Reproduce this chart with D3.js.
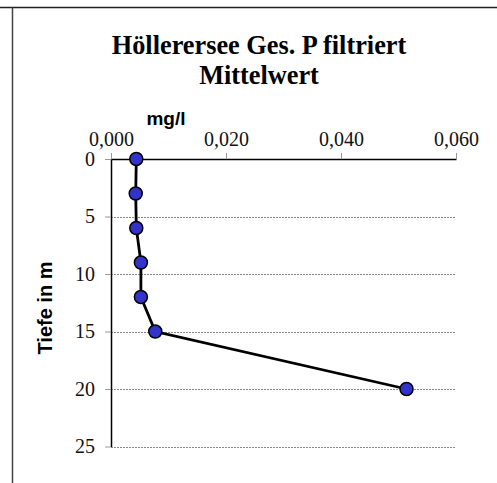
<!DOCTYPE html>
<html><head><meta charset="utf-8">
<script src="https://cdn.jsdelivr.net/npm/d3@7"></script>
<style>body{margin:0;background:#fff}svg{display:block}</style>
</head><body>
<script>
const depths = [0, 3, 6, 9, 12, 15, 20];
const values = [0.0044, 0.0043, 0.0044, 0.0052, 0.0052, 0.0077, 0.0514];
const xTicks = [0, 0.02, 0.04, 0.06];
const yTicks = [0, 5, 10, 15, 20, 25];
const titleLines = ["Höllerersee Ges. P filtriert", "Mittelwert"];
const xTitle = "mg/l";
const yTitle = "Tiefe in m";

const W = 497, H = 483;
const svg = d3.select("body").append("svg").attr("width", W).attr("height", H);

// frame
svg.append("line").attr("x1",0).attr("x2",W).attr("y1",7.5).attr("y2",7.5).attr("stroke","#222").attr("stroke-width",1.5);
svg.append("line").attr("x1",12.5).attr("x2",12.5).attr("y1",7.5).attr("y2",H).attr("stroke","#444").attr("stroke-width",1.5);

const x = d3.scaleLinear().domain([0, 0.06]).range([111, 456]);
const y = d3.scaleLinear().domain([0, 25]).range([159, 446.5]);

// gridlines
svg.append("g").selectAll("line").data(yTicks.filter(d=>d>0)).join("line")
  .attr("x1", x(0)).attr("x2", x(0.06))
  .attr("y1", d=>Math.round(y(d))+0.5).attr("y2", d=>Math.round(y(d))+0.5)
  .attr("stroke","#888").attr("stroke-width",1).attr("stroke-dasharray","2,1");

const fmt = d => d3.format(".3f")(d).replace(".", ",");

// top x axis
const gx = svg.append("g").attr("transform",`translate(0,${y(0)})`)
  .call(d3.axisTop(x).tickValues(xTicks).tickFormat(fmt).tickSize(6).tickSizeOuter(0));
gx.select(".domain").attr("stroke","#000").attr("stroke-width",1.5);
gx.selectAll(".tick line").attr("stroke","#999");
gx.selectAll(".tick text").attr("font-family","'Liberation Serif', 'Times New Roman', serif").attr("font-size",20).attr("fill","#111").attr("dy",-4);

// left y axis
const gy = svg.append("g").attr("transform",`translate(${x(0)},0)`)
  .call(d3.axisLeft(y).tickValues(yTicks).tickSize(6).tickSizeOuter(0));
gy.select(".domain").attr("stroke","#000").attr("stroke-width",1.5);
gy.selectAll(".tick line").attr("stroke","#999");
gy.selectAll(".tick text").attr("font-family","'Liberation Serif', 'Times New Roman', serif").attr("font-size",20).attr("fill","#111").attr("dx",-7);

// title
svg.append("text").attr("x",259).attr("y",54).attr("text-anchor","middle")
  .attr("font-family","'Liberation Serif', 'Times New Roman', serif").attr("font-weight","bold").attr("font-size",26.3)
  .selectAll("tspan").data(titleLines).join("tspan").attr("x",259).attr("dy",(d,i)=>i?30:0).text(d=>d);

svg.append("text").attr("x",166).attr("y",125).attr("text-anchor","middle")
  .attr("font-family","'Liberation Sans', Arial, sans-serif").attr("font-weight","bold").attr("font-size",19).text(xTitle);

svg.append("text").attr("transform","translate(52,308) rotate(-90)").attr("text-anchor","middle")
  .attr("font-family","'Liberation Sans', Arial, sans-serif").attr("font-weight","bold").attr("font-size",20).text(yTitle);

const pts = depths.map((d,i)=>[values[i], d]);
svg.append("path").datum(pts)
  .attr("d", d3.line().x(d=>x(d[0])).y(d=>y(d[1])))
  .attr("fill","none").attr("stroke","#000").attr("stroke-width",2.8);
svg.append("g").selectAll("circle").data(pts).join("circle")
  .attr("cx", d=>x(d[0])).attr("cy", d=>y(d[1])).attr("r",6.5)
  .attr("fill","#3333cc").attr("stroke","#000").attr("stroke-width",1.5);
</script>
</body></html>
